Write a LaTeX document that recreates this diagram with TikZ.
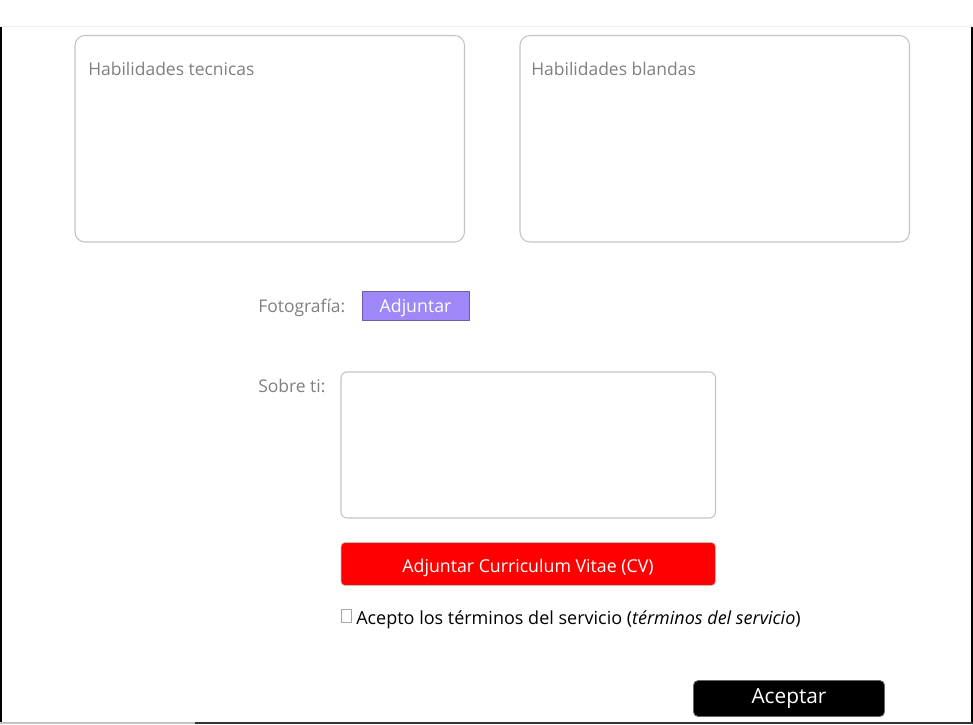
\documentclass[tikz,border=0pt]{standalone}
\usepackage{fontspec}
\setmainfont{Open Sans}
\definecolor{bordegris}{HTML}{C4C4C4}
\definecolor{textogris}{HTML}{808080}
\definecolor{lila}{HTML}{9E88F8}
\definecolor{lilaborde}{HTML}{6E60A8}
\definecolor{rojo}{HTML}{FF0000}
\begin{document}
\begin{tikzpicture}[x=0.75pt,y=-0.75pt,
  caja/.style={draw=bordegris, line width=0.8pt, fill=white},
  etiqueta/.style={text=textogris, inner sep=0pt, anchor=base west, font=\fontsize{13.1}{15}\selectfont},
  textoboton/.style={text=white, inner sep=0pt, anchor=base, font=\fontsize{13.3}{16}\selectfont}]
  %marco de la pagina
  \useasboundingbox (0,0) rectangle (973,724);
  \fill[white] (0,0) rectangle (973,724);
  \draw[line width=0.75pt, black!6] (0,26.5) -- (973,26.5);
  \draw[line width=1.5pt] (1,27) -- (1,724);
  \draw[line width=1.5pt] (971.5,27) -- (971.5,724);
  \draw[line width=1.5pt, bordegris] (0,723) -- (195,723);
  \draw[line width=1.5pt, black!80] (195,723) -- (973,723);
  %cajas de habilidades
  \def\r{7.5pt}
  \draw[caja, rounded corners=\r] (75,35.5) rectangle (464.5,242);
  \node[etiqueta] (tecnicas) at (88,75) {Habilidades tecnicas};
  \draw[caja, rounded corners=\r] (520,35.5) rectangle (909.5,242);
  \node[etiqueta] (blandas) at (531,75) {Habilidades blandas};
  %fotografia
  \node[etiqueta] (foto) at (258,312) {Fotografía:};
  \draw[fill=lila, draw=lilaborde, line width=0.75pt] (362.5,291.5) rectangle (469.5,320) node[textoboton] (adjuntar) at (415.5,312) {Adjuntar};
  %sobre ti
  \node[etiqueta] (sobre) at (258,392) {Sobre ti:};
  \draw[caja, rounded corners=4.5pt] (341,372) rectangle (715.5,518);
  %boton cv
  \draw[fill=rojo, draw=black!25, line width=0.5pt, rounded corners=3pt] (341,542.5) rectangle (715.5,585.5);
  \node[textoboton] (cv) at (528,572) {Adjuntar Curriculum Vitae (CV)};
  %terminos
  \draw[black!35, line width=0.6pt] (341.5,609.5) rectangle (351.5,622.5);
  \node[inner sep=0pt, anchor=base west, font=\fontsize{13.5}{16}\selectfont] (terminos) at (356,624) {Acepto los términos del servicio (\textit{términos del servicio})};
  %aceptar
  \draw[fill=black, draw=black!60, line width=0.6pt, rounded corners=3.5pt] (693.5,680.5) rectangle (884.5,716.5);
  \node[textoboton, font=\fontsize{15.6}{18}\selectfont] (aceptar) at (789,703) {Aceptar};
\end{tikzpicture}
\end{document}
